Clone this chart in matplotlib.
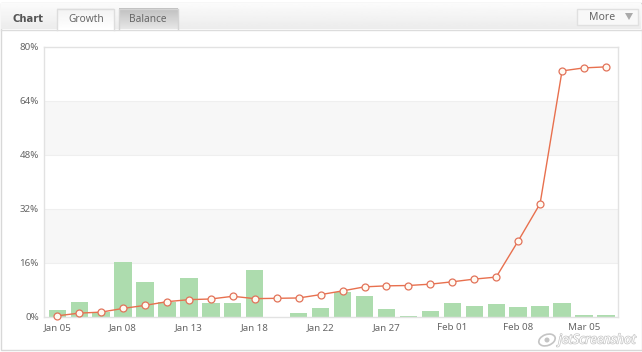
import numpy as np
import matplotlib
matplotlib.use('Agg')
import matplotlib.pyplot as plt
import matplotlib.patheffects as pe
from matplotlib.patches import Rectangle, Polygon, Ellipse

plt.rcParams['font.family'] = ['Noto Sans', 'DejaVu Sans']

W, H = 642, 352

growth = [0.2, 1.0, 1.3, 2.4, 3.3, 4.4, 5.0, 5.2, 6.0, 5.3, 5.4, 5.5, 6.5,
          7.6, 8.8, 9.1, 9.2, 9.6, 10.3, 11.1, 11.7, 22.4, 33.5, 72.9, 73.8, 74.1]
bars = [2.0, 4.3, 1.2, 16.2, 10.3, 4.4, 11.4, 4.0, 3.9, 13.8, 0.0, 0.9, 2.4,
        7.4, 6.1, 2.1, 0.1, 1.5, 4.0, 3.1, 3.7, 2.7, 3.2, 4.1, 0.3, 0.4]
tick_pos = [0, 3, 6, 9, 12, 15, 18, 21, 24]
tick_labels = ['Jan 05', 'Jan 08', 'Jan 13', 'Jan 18', 'Jan 22', 'Jan 27', 'Feb 01', 'Feb 08', 'Mar 05']
y_ticks = [0, 16, 32, 48, 64, 80]

fig = plt.figure(figsize=(W / 100, H / 100), dpi=100, facecolor='white')

# page furniture, in pixel coordinates
bg = fig.add_axes([0, 0, 1, 1])
bg.set_xlim(0, W)
bg.set_ylim(H, 0)
bg.axis('off')
bg.add_patch(Rectangle((0.5, 2.5), W - 1, H - 5, fc='white', ec='#d8d8d8', lw=1))
grad = np.linspace(0.985, 0.925, 30).reshape(-1, 1)
bg.imshow(grad, extent=(1, W - 1, 29, 3), cmap='gray', vmin=0, vmax=1, aspect='auto', zorder=1)
bg.plot([1, W - 1], [29.5, 29.5], color='#dcdcdc', lw=1, zorder=2)

# Growth tab
bg.imshow(np.linspace(0.95, 1, 20).reshape(-1, 1), extent=(57, 114, 30, 8), cmap='gray', vmin=0, vmax=1,
          aspect='auto', zorder=3)
bg.plot([57, 57, 114, 114], [30, 8.5, 8.5, 30], color='#dddddd', lw=1, zorder=4)
# Balance tab
bg.imshow(np.linspace(0.75, 0.9, 20).reshape(-1, 1), extent=(119, 178, 29, 8), cmap='gray', vmin=0, vmax=1,
          aspect='auto', zorder=3)
bg.plot([119, 119, 178, 178], [29, 8.5, 8.5, 29], color='#d4d4d4', lw=1, zorder=4)
bg.set_xlim(0, W)
bg.set_ylim(H, 0)

bg.text(28, 19.5, 'Chart', fontsize=7.2, fontweight='bold', family='DejaVu Sans', color='#555555',
        ha='center', va='center', zorder=5)
bg.text(86, 20, 'Growth', fontsize=7.3, color='#666666', ha='center', va='center', zorder=5)
bg.text(148, 20, 'Balance', fontsize=7.3, color='#666666', ha='center', va='center', zorder=5)

# More button
bg.add_patch(Rectangle((576.5, 8.5), 61, 16, fc='#f8f8f8', ec='#e0e0e0', lw=1, zorder=3))
bg.text(602.5, 17, 'More', fontsize=7.5, color='#666666', ha='center', va='center', zorder=5)
bg.add_patch(Polygon([[625, 13], [633, 13], [629, 20]], fc='#aaaaaa', ec='none', zorder=5))

# chart
ax = fig.add_axes([44.5 / W, 1 - 316.5 / H, 573.5 / W, 269.5 / H])
ax.patch.set_alpha(0)
x = np.arange(len(growth))
ax.axhspan(16, 32, color='#f7f7f7', lw=0, zorder=0)
ax.axhspan(48, 64, color='#f7f7f7', lw=0, zorder=0)
for v in y_ticks[1:-1]:
    ax.axhline(v, color='#efefef', lw=0.8, zorder=1)
ax.bar(x, bars, width=0.79, color='#addcae', zorder=2)
ax.plot(x, growth, color='#e8704e', lw=1, marker='o', ms=5, mfc='#fffaf2', mec='#e2735a', mew=0.9,
        zorder=3, clip_on=False)
ax.set_xlim(-0.58, 25.55)
ax.set_ylim(0, 80)
ax.set_xticks(tick_pos)
ax.set_xticklabels(tick_labels)
ax.set_yticks(y_ticks)
ax.set_yticklabels([f'{v}%' for v in y_ticks])
ax.tick_params(length=0, labelsize=7, labelcolor='#666666')
ax.tick_params(axis='x', pad=5)
ax.tick_params(axis='y', pad=4)
for s in ax.spines.values():
    s.set_color('#e2e2e2')
    s.set_linewidth(1)

# watermark
halo = [pe.withStroke(linewidth=1, foreground='#c4c4c4')]
bg.add_patch(Ellipse((547, 340), 17, 11, angle=-20, fc='white', ec='#c4c4c4', lw=1.2, zorder=6))
bg.add_patch(Ellipse((547, 340), 5, 5, fc='#c4c4c4', ec='none', zorder=6))
bg.text(597, 340, 'jetScreenshot', fontsize=9.4, style='italic', color='white', ha='center', va='center', zorder=6,
        path_effects=halo)
bg.set_zorder(0)
ax.set_zorder(1)

fig.savefig('out.png', dpi=100)
